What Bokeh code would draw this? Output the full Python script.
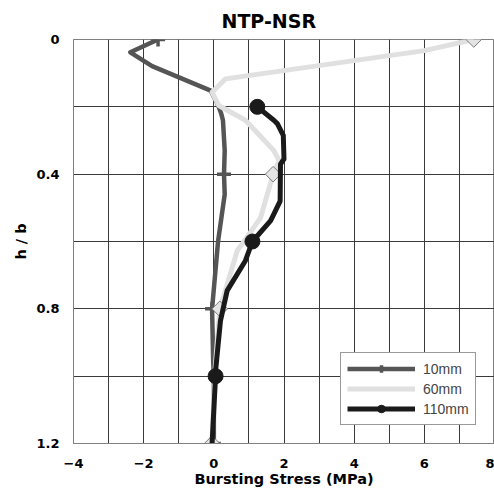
import math
from bokeh.plotting import figure
from bokeh.models import Range1d, FixedTicker, Legend, LegendItem
from bokeh.embed import file_html
from bokeh.resources import INLINE

# ---- data ----
h_10 = [0.0, 0.038, 0.079, 0.152, 0.19, 0.22, 0.24, 0.33, 0.40, 0.46, 0.60, 0.80, 0.95, 1.0, 1.2]
s_10 = [-1.59, -2.38, -1.76, -0.09, 0.10, 0.21, 0.26, 0.31, 0.29, 0.31, 0.12, -0.05, -0.02, 0.0, 0.0]
mh_10 = [0.0, 0.4, 0.8, 1.2]
ms_10 = [-1.59, 0.29, -0.05, 0.0]

h_60 = [0.0, 0.033, 0.117, 0.157, 0.196, 0.24, 0.256, 0.33, 0.36, 0.40, 0.53, 0.607, 0.627, 0.80, 1.0, 1.2]
s_60 = [7.41, 6.0, 0.33, -0.05, 0.14, 0.90, 1.05, 1.71, 1.86, 1.69, 1.33, 0.81, 0.67, 0.17, 0.02, -0.05]
mh_60 = [0.0, 0.4, 0.8, 1.2]
ms_60 = [7.41, 1.69, 0.17, -0.05]

h_110 = [0.2, 0.24, 0.25, 0.285, 0.355, 0.37, 0.48, 0.538, 0.6, 0.657, 0.746, 0.835, 0.984, 1.0, 1.2]
s_110 = [1.24, 1.71, 1.81, 1.98, 2.0, 1.9, 1.89, 1.62, 1.1, 0.9, 0.38, 0.19, 0.05, 0.05, -0.05]
mh_110 = [0.2, 0.6, 1.0]
ms_110 = [1.24, 1.1, 0.05]

x_ticks = [-4, -2, 0, 2, 4, 6, 8]
x_grid = [-4, -3, -2, -1, 0, 1, 2, 3, 4, 5, 6, 7, 8]
y_ticks = [0, 0.4, 0.8, 1.2]
y_grid = [0, 0.2, 0.4, 0.6, 0.8, 1.0, 1.2]

BFONT = "DejaVu Sans"
LFONT = "Liberation Sans"

p = figure(width=494, height=490, output_backend="svg", toolbar_location=None,
           x_range=Range1d(-4, 8), y_range=Range1d(1.2, 0),
           min_border_left=73, min_border_right=0, min_border_top=39, min_border_bottom=47)

p.title.text = "NTP-NSR"
p.title.text_font = BFONT
p.title.text_font_size = "19px"
p.title.text_font_style = "bold"
p.title.text_color = "black"
p.title.align = "left"
p.title.offset = 148
p.title.standoff = 15

p.outline_line_color = "#808080"
p.background_fill_color = "white"
p.border_fill_color = "white"

for ax in (p.xaxis[0], p.yaxis[0]):
    ax.axis_line_color = "#808080"
    ax.major_tick_line_color = None
    ax.minor_tick_line_color = None
    ax.major_tick_out = 0
    ax.major_tick_in = 0
    ax.minor_tick_out = 0
    ax.minor_tick_in = 0
    ax.major_label_text_font = BFONT
    ax.major_label_text_font_size = "13px"
    ax.major_label_text_font_style = "bold"
    ax.major_label_text_color = "black"
    ax.axis_label_text_font = BFONT
    ax.axis_label_text_font_size = "14.5px"
    ax.axis_label_text_font_style = "bold"
    ax.axis_label_text_color = "black"

p.xaxis.ticker = FixedTicker(ticks=x_ticks)
p.yaxis.ticker = FixedTicker(ticks=y_ticks)
p.xaxis.axis_label = "Bursting Stress (MPa)"
p.yaxis.axis_label = "h / b"
p.xaxis.major_label_standoff = 15
p.xaxis.axis_label_standoff = 0
p.yaxis.major_label_standoff = 14
p.yaxis.axis_label_standoff = 4

p.xgrid.ticker = FixedTicker(ticks=x_grid)
p.ygrid.ticker = FixedTicker(ticks=y_grid)
p.xgrid.grid_line_color = "#3a3a3a"
p.ygrid.grid_line_color = "#3a3a3a"
p.xgrid.grid_line_width = 1
p.ygrid.grid_line_width = 1

c10, c60, c110 = "#555555", "#e0e0e0", "#1a1a1a"

l10 = p.line(s_10, h_10, line_color=c10, line_width=4.5, line_join="round")
m10 = p.scatter(ms_10, mh_10, marker="cross", size=14, line_color=c10, line_width=3.5)

l60 = p.line(s_60, h_60, line_color=c60, line_width=5, line_join="round")
m60 = p.scatter(ms_60, mh_60, marker="square", angle=math.pi / 4, size=11,
                fill_color="#e4e4e4", line_color="#7a7a7a", line_width=1)
# legend-only marker (legend ignores marker rotation)
m60_key = p.scatter([], [], marker="diamond", size=17,
                    fill_color="#e4e4e4", line_color="#7a7a7a", line_width=1)

l110 = p.line(s_110, h_110, line_color=c110, line_width=5, line_join="round")
m110 = p.scatter(ms_110, mh_110, marker="circle", size=15, fill_color=c110, line_color=c110)

legend = Legend(items=[
    LegendItem(label="10mm", renderers=[l10, m10]),
    LegendItem(label="60mm", renderers=[l60, m60_key]),
    LegendItem(label="110mm", renderers=[l110, m110]),
], location=(267, 18))
legend.glyph_width = 68
legend.glyph_height = 19
legend.spacing = 1
legend.padding = 6
legend.margin = 0
legend.label_standoff = 8
legend.label_text_font = LFONT
legend.label_text_font_size = "14px"
legend.label_height = 19
legend.border_line_color = "#333333"
legend.border_line_width = 1
legend.background_fill_alpha = 1
p.add_layout(legend, "center")

open("out.html", "w").write(file_html(p, INLINE))
